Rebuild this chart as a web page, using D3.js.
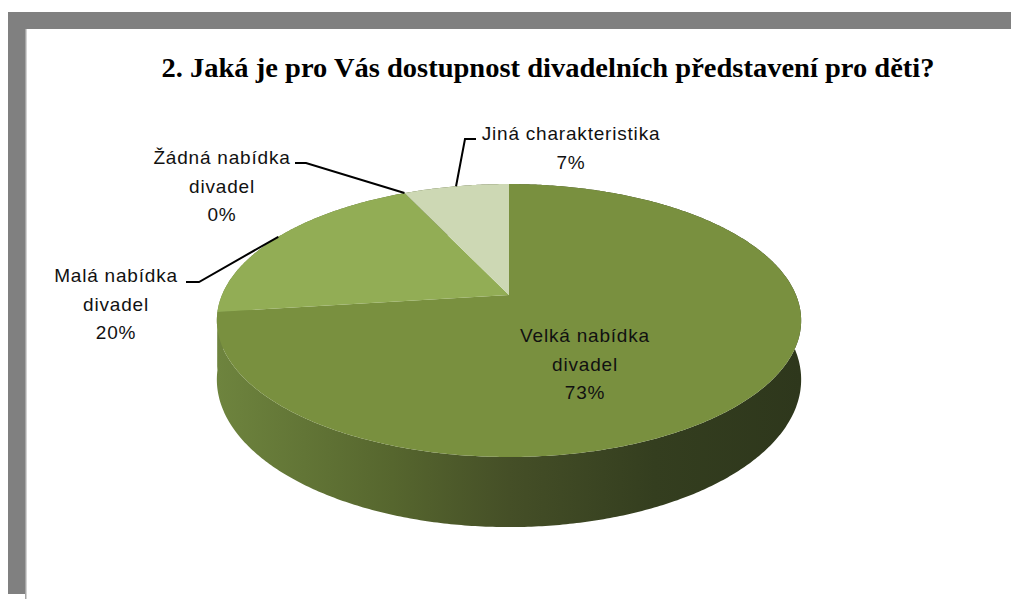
<!DOCTYPE html>
<html>
<head>
<meta charset="utf-8">
<script src="https://cdn.jsdelivr.net/npm/d3@7"></script>
<style>
  body { margin: 0; background: #fff; }
  svg { display: block; }
</style>
</head>
<body>
<svg id="chart" width="1011" height="600"></svg>
<script>
// data
const title = "2. Jaká je pro Vás dostupnost divadelních představení pro děti?";
const categories = ["Velká nabídka\ndivadel", "Malá nabídka\ndivadel", "Žádná nabídka\ndivadel", "Jiná charakteristika"];
const values = [73, 20, 0, 7];
const topColors = ["#79903f", "#92ad55", "#92ad55", "#cdd8b4"];

// label layout (text anchor + leader elbow), same order as categories
const labelPos = [
  { x: 585, y: 342, leader: false },
  { x: 116, y: 282, leader: true, start: [186, 282], elbow: [199, 282] },
  { x: 222, y: 164, leader: true, start: [295, 163], elbow: [306, 163] },
  { x: 571, y: 140, leader: true, start: [476, 139], elbow: [465, 139] }
];
const lineGap = 28.5;

const svg = d3.select("#chart");

// grey frame
svg.append("rect").attr("x", 8).attr("y", 12).attr("width", 1003).attr("height", 17).attr("fill", "#808080");
svg.append("rect").attr("x", 8).attr("y", 12).attr("width", 17).attr("height", 582).attr("fill", "#808080");
svg.append("rect").attr("x", 25).attr("y", 29).attr("width", 1.5).attr("height", 570).attr("fill", "#a6a6a6");

svg.append("text")
  .attr("x", 548).attr("y", 77)
  .attr("text-anchor", "middle")
  .attr("textLength", 773)
  .attr("lengthAdjust", "spacingAndGlyphs")
  .style("font-family", "'Liberation Serif', 'Times New Roman', serif")
  .style("font-weight", "bold")
  .style("font-size", "27px")
  .text(title);

// 3D pie with a simple perspective
const cx = 509, cy = 295, rx = 287, ry = 131.7, persp = 0.187, depth = 57;
const rScale = d3.scaleLinear().domain([0, 1]).range([0, 1]);

function proj(a, r = 1) {
  const u = Math.sin(a) * rScale(r), v = -Math.cos(a) * rScale(r);
  const w = 1 - persp * v;
  return [cx + rx * u / w, cy + ry * v / w];
}
function projLow(a) {
  const p = proj(a);
  const w = 1 + persp * Math.cos(a);
  return [p[0], p[1] + depth / w];
}
function arcPts(a0, a1, f) {
  const n = Math.max(2, Math.ceil(Math.abs(a1 - a0) / 0.01));
  return d3.range(n + 1).map(i => f(a0 + (a1 - a0) * i / n));
}

const pie = d3.pie().sort(null).value(d => d)(values);
const line = d3.line();

// wall gradient (light left, dark right)
const xs = arcPts(0, 2 * Math.PI, proj).map(p => p[0]);
const grad = svg.append("defs").append("linearGradient")
  .attr("id", "wall").attr("gradientUnits", "userSpaceOnUse")
  .attr("x1", d3.min(xs)).attr("x2", d3.max(xs)).attr("y1", 0).attr("y2", 0);
[[0, "#6e843e"], [0.3, "#56662e"], [0.5, "#454f27"], [0.75, "#343e1f"], [1, "#2e371c"]]
  .forEach(([o, c]) => grad.append("stop").attr("offset", o).attr("stop-color", c));

const g = svg.append("g");

// walls, far first
const slices = pie.filter(d => d.endAngle > d.startAngle);
slices.slice()
  .sort((a, b) => Math.cos((b.startAngle + b.endAngle) / 2) - Math.cos((a.startAngle + a.endAngle) / 2))
  .forEach(d => {
    const pts = arcPts(d.startAngle, d.endAngle, proj)
      .concat(arcPts(d.endAngle, d.startAngle, projLow));
    g.append("path").attr("d", line(pts) + "Z").attr("fill", "url(#wall)");
  });

// top faces
slices.forEach(d => {
  const pts = [proj(0, 0)].concat(arcPts(d.startAngle, d.endAngle, proj));
  g.append("path").attr("d", line(pts) + "Z").attr("fill", topColors[d.index]);
});

// labels + leaders
pie.forEach((d, i) => {
  const lp = labelPos[i];
  const lines = categories[i].split("\n").concat(values[i] + "%");
  const t = svg.append("text")
    .attr("text-anchor", "middle")
    .style("font-family", "'Liberation Sans', Arial, sans-serif")
    .style("font-size", "19px")
    .style("letter-spacing", "0.8px")
    .attr("fill", "#111");
  lines.forEach((s, j) => {
    t.append("tspan").attr("x", lp.x).attr("y", lp.y + j * lineGap).text(s);
  });
  if (lp.leader) {
    const mid = (d.startAngle + d.endAngle) / 2;
    svg.append("path")
      .attr("d", line([lp.start, lp.elbow, proj(mid)]))
      .attr("fill", "none")
      .attr("stroke", "#000")
      .attr("stroke-width", 2);
  }
});
</script>
</body>
</html>
